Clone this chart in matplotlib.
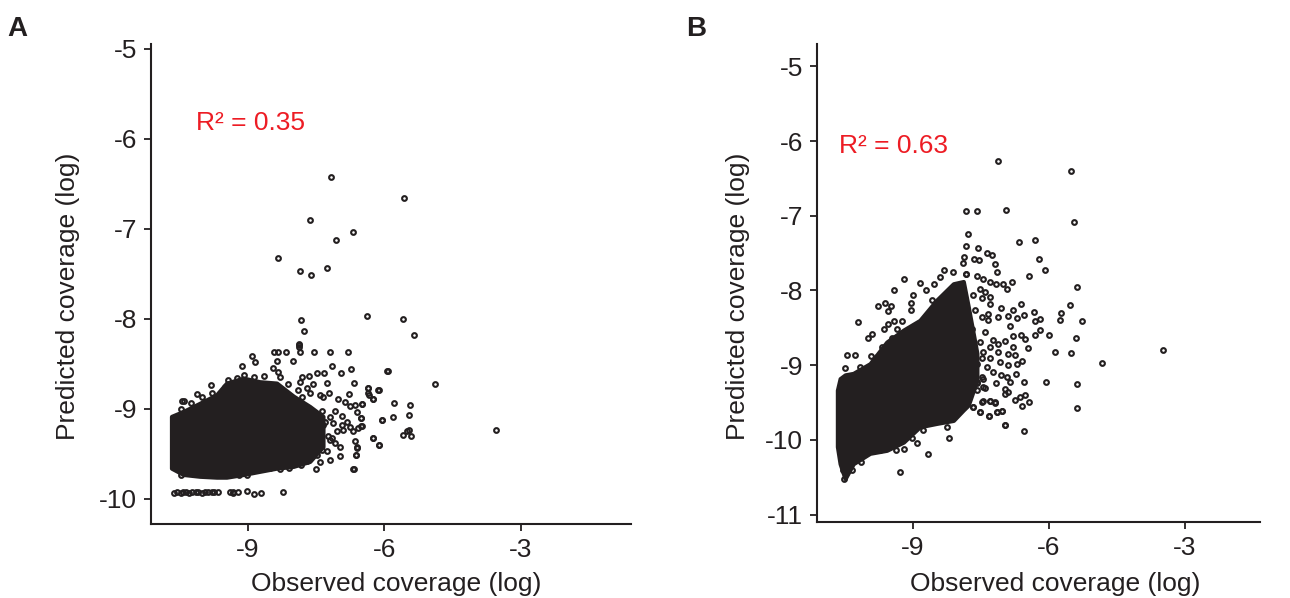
import matplotlib
matplotlib.use("Agg")
import matplotlib.pyplot as plt

plt.rcParams['font.family'] = ['Liberation Sans', 'DejaVu Sans']
plt.rcParams['axes.unicode_minus'] = False

INK = '#231f20'
RED = '#ed1c24'

# Dense core of each scatter: envelope (observed, upper, lower)
core_a_obs = [-10.68, -10.42, -10.06, -9.69, -9.47, -9.10, -8.74, -8.37, -8.00, -7.64, -7.35]
core_a_hi = [-9.085, -9.03, -8.94, -8.845, -8.715, -8.66, -8.70, -8.715, -8.86, -8.975, -9.085]
core_a_lo = [-9.66, -9.73, -9.75, -9.76, -9.76, -9.73, -9.695, -9.66, -9.64, -9.585, -9.42]

core_b_obs = [-10.67, -10.61, -10.50, -10.32, -9.95, -9.58, -9.21, -8.85, -8.48, -8.11, -7.89, -7.78, -7.59]
core_b_hi = [-9.335, -9.18, -9.13, -9.11, -8.98, -8.69, -8.53, -8.40, -8.13, -7.91, -7.88, -8.22, -8.84]
core_b_lo = [-10.09, -10.32, -10.52, -10.32, -10.18, -10.14, -10.03, -9.825, -9.78, -9.74, -9.60, -9.535, -9.20]

# Individually readable points, panel A (observed, predicted)
points_a = [
    (-7.18, -6.43), (-5.57, -6.66), (-7.64, -6.90), (-6.70, -7.04), (-7.07, -7.13), (-8.34, -7.33),
    (-7.26, -7.44), (-7.86, -7.47), (-7.62, -7.51), (-7.84, -8.02), (-6.38, -7.965), (-5.59, -8.00),
    (-5.34, -8.18), (-7.77, -8.14), (-7.88, -8.28), (-7.87, -8.31), (-5.92, -8.58), (-4.88, -8.73),
    (-3.55, -9.24), (-6.37, -8.765), (-6.12, -8.79), (-6.26, -8.89), (-6.36, -8.825), (-5.78, -8.94),
    (-5.44, -8.96), (-5.47, -9.07), (-5.81, -9.09), (-6.06, -9.13), (-5.45, -9.24), (-5.59, -9.295),
    (-5.42, -9.30), (-5.50, -9.25), (-6.25, -9.325), (-6.11, -9.40), (-6.69, -9.665), (-6.50, -8.945),
    (-6.63, -9.51), (-6.61, -9.42), (-6.52, -9.10), (-6.52, -9.195),
    (-7.87, -8.29), (-7.86, -8.375), (-8.43, -8.375), (-8.33, -8.375), (-8.17, -8.375), (-7.54, -8.375),
    (-7.19, -8.375), (-6.80, -8.375), (-8.90, -8.42), (-8.85, -8.485), (-8.36, -8.47), (-8.00, -8.475),
    (-9.14, -8.52), (-7.16, -8.52), (-8.44, -8.55), (-8.33, -8.59), (-8.30, -8.65), (-6.74, -8.56),
    (-6.96, -8.605), (-7.48, -8.60), (-7.32, -8.605), (-5.94, -8.585), (-7.65, -8.635), (-7.82, -8.65),
    (-8.65, -8.64), (-9.08, -8.63), (-8.86, -8.65), (-9.25, -8.66), (-9.43, -8.68), (-7.86, -8.705),
    (-7.57, -8.73), (-7.27, -8.71), (-6.67, -8.715), (-8.11, -8.72), (-9.82, -8.735), (-10.11, -8.835),
    (-10.02, -8.865), (-9.78, -8.825), (-9.50, -8.76), (-7.89, -8.795), (-7.70, -8.765), (-7.64, -8.825),
    (-6.35, -8.765), (-6.14, -8.795), (-6.34, -8.845), (-6.26, -8.89), (-7.82, -8.865), (-7.42, -8.845),
    (-7.22, -8.825), (-6.78, -8.835), (-7.35, -8.87), (-7.02, -8.89), (-6.87, -8.92), (-6.50, -8.945),
    (-6.65, -8.955), (-10.44, -8.91), (-10.40, -8.91), (-10.24, -8.94), (-10.47, -9.00), (-6.76, -8.975),
    (-7.38, -9.03), (-7.09, -9.02), (-6.61, -9.04), (-6.94, -9.08), (-7.20, -9.09), (-6.52, -9.10),
    (-6.05, -9.125), (-7.35, -9.18), (-6.76, -9.205), (-6.50, -9.195), (-6.90, -9.235), (-7.16, -9.325),
    (-6.25, -9.325), (-6.11, -9.40), (-6.65, -9.36), (-6.98, -9.42), (-6.61, -9.435), (-7.27, -9.47),
    (-6.98, -9.52), (-6.63, -9.51), (-7.20, -9.565), (-7.42, -9.595), (-7.71, -9.585), (-7.51, -9.665),
    (-7.84, -9.63), (-6.67, -9.665), (-8.09, -9.66), (-8.30, -9.67), (-8.52, -9.66), (-9.19, -9.74),
    (-9.03, -9.74), (-10.48, -9.74), (-7.12, -9.16), (-6.94, -9.18), (-6.83, -9.15), (-6.69, -9.25),
    (-6.58, -9.215), (-7.05, -9.25), (-7.20, -9.345), (-7.09, -9.38), (-7.49, -9.51), (-7.38, -9.455),
    (-7.30, -9.15), (-7.25, -9.30), (-7.40, -9.25), (-7.50, -9.40),
]

# Separate low band of panel A
band_a_obs = [-10.62, -10.55, -10.48, -10.42, -10.35, -10.29, -10.22, -10.15, -10.09, -10.02, -9.95, -9.88,
              -9.80, -9.74, -9.65, -9.40, -9.33, -9.32, -9.21, -9.03, -8.86, -8.71, -8.22]
band_a_pred = [-9.94, -9.93, -9.94, -9.93, -9.92, -9.94, -9.93, -9.92, -9.93, -9.94, -9.93, -9.92,
               -9.93, -9.92, -9.93, -9.93, -9.92, -9.94, -9.93, -9.91, -9.95, -9.94, -9.93]

# Individually readable points, panel B (observed, predicted)
points_b = [
    (-9.21, -7.84), (-9.43, -8.00), (-8.31, -7.73), (-8.12, -7.75), (-8.40, -7.82), (-7.84, -7.78),
    (-8.85, -7.90), (-8.54, -7.91), (-8.99, -8.06), (-8.71, -7.995), (-8.59, -8.13), (-9.77, -8.205),
    (-9.62, -8.17), (-9.49, -8.21), (-9.55, -8.27), (-9.05, -8.17), (-9.05, -8.26), (-10.22, -8.42),
    (-9.42, -8.41), (-9.25, -8.41), (-9.55, -8.45), (-9.64, -8.52), (-9.35, -8.51), (-9.91, -8.58),
    (-9.99, -8.63), (-9.23, -8.58), (-9.47, -8.63), (-9.69, -8.76), (-10.46, -8.87), (-10.28, -8.865),
    (-9.93, -8.88), (-9.80, -8.89), (-10.50, -9.04), (-10.16, -9.03), (-10.35, -10.405), (-10.52, -10.52),
    (-10.54, -10.405), (-10.15, -10.29), (-10.26, -10.27), (-9.74, -10.13), (-9.99, -10.15), (-9.38, -10.13),
    (-9.20, -10.12), (-8.92, -10.04), (-9.03, -9.97), (-9.29, -10.43), (-8.68, -10.195), (-8.20, -9.97),
    (-8.77, -9.87), (-8.24, -9.825), (-7.32, -9.68), (-7.15, -9.63), (-7.03, -9.615), (-6.98, -9.80),
    (-7.52, -9.63), (-7.68, -9.56), (-7.89, -9.55), (-7.19, -9.50), (-7.30, -9.48), (-7.45, -9.48),
    (-7.59, -9.335), (-7.45, -9.29), (-7.59, -9.22), (-7.45, -9.18),
    (-7.13, -6.27), (-5.51, -6.395), (-7.82, -6.94), (-7.59, -6.94), (-6.94, -6.925), (-5.44, -7.08),
    (-7.79, -7.24), (-6.31, -7.32), (-6.65, -7.345), (-7.84, -7.41), (-7.56, -7.425), (-6.21, -7.58),
    (-6.08, -7.73), (-6.45, -7.81), (-7.37, -7.505), (-7.25, -7.53), (-7.19, -7.64), (-7.15, -7.75),
    (-7.87, -7.55), (-7.89, -7.63), (-7.65, -7.585), (-7.54, -7.595), (-7.83, -7.78), (-7.59, -7.81),
    (-7.45, -7.85), (-7.30, -7.885), (-7.17, -7.92), (-7.01, -7.91), (-6.82, -7.89), (-6.92, -7.98),
    (-7.52, -7.975), (-7.41, -8.02), (-7.67, -8.06), (-7.48, -8.095), (-7.29, -8.085), (-7.29, -8.18),
    (-5.39, -7.95), (-5.53, -8.19), (-6.62, -8.18), (-6.79, -8.265), (-7.06, -8.24), (-6.33, -8.285),
    (-5.73, -8.305), (-5.75, -8.40), (-5.28, -8.41), (-6.20, -8.385), (-6.30, -8.41), (-6.56, -8.325),
    (-6.70, -8.375), (-6.90, -8.34), (-7.12, -8.35), (-7.34, -8.31), (-7.48, -8.35), (-7.63, -8.265),
    (-7.78, -8.31), (-7.34, -8.40), (-6.87, -8.48), (-7.41, -8.55), (-7.70, -8.51), (-6.20, -8.535),
    (-6.30, -8.60), (-6.00, -8.595), (-6.62, -8.595), (-6.80, -8.61), (-6.53, -8.65), (-5.41, -8.635),
    (-6.96, -8.675), (-7.23, -8.665), (-7.52, -8.69), (-6.47, -8.77), (-6.80, -8.755), (-7.12, -8.72),
    (-7.31, -8.755), (-5.86, -8.825), (-5.52, -8.835), (-4.82, -8.965), (-3.49, -8.795), (-7.45, -8.82),
    (-7.12, -8.83), (-6.90, -8.845), (-6.75, -8.86), (-6.60, -8.94), (-6.71, -8.98), (-6.90, -9.00),
    (-7.08, -8.955), (-7.29, -8.91), (-7.48, -8.90), (-7.59, -8.98), (-7.37, -9.02), (-7.23, -9.09),
    (-7.06, -9.135), (-6.73, -9.125), (-6.93, -9.155), (-7.48, -9.155), (-6.56, -9.22), (-6.86, -9.22),
    (-7.17, -9.24), (-6.06, -9.22), (-5.39, -9.25), (-7.41, -9.31), (-7.59, -9.245), (-6.97, -9.325),
    (-6.90, -9.365), (-6.98, -9.39), (-6.53, -9.40), (-6.64, -9.425), (-6.75, -9.47), (-6.45, -9.49),
    (-6.59, -9.55), (-5.37, -9.57), (-7.19, -9.49), (-7.30, -9.48), (-7.48, -9.49), (-7.68, -9.56),
    (-7.89, -9.55), (-7.52, -9.63), (-7.32, -9.68), (-7.14, -9.63), (-7.03, -9.62), (-6.98, -9.80),
    (-6.56, -9.88),
]

x_ticks = [-9, -6, -3]
y_ticks_a = [-10, -9, -8, -7, -6, -5]
y_ticks_b = [-11, -10, -9, -8, -7, -6, -5]
x_label = 'Observed coverage (log)'
y_label = 'Predicted coverage (log)'
r2_a = 'R\u00b2 = 0.35'
r2_b = 'R\u00b2 = 0.63'

W, H = 1290, 598
fig = plt.figure(figsize=(W / 100, H / 100), dpi=100, facecolor='white')


def make_axes(left, right, top, bottom, xlim, ylim, yticks):
    ax = fig.add_axes([left / W, 1 - bottom / H, (right - left) / W, (bottom - top) / H])
    ax.set_xlim(*xlim)
    ax.set_ylim(*ylim)
    ax.set_xticks(x_ticks, [str(t) for t in x_ticks])
    ax.set_yticks(yticks, [str(t) for t in yticks])
    ax.spines['top'].set_visible(False)
    ax.spines['right'].set_visible(False)
    for s in ('left', 'bottom'):
        ax.spines[s].set_linewidth(1.5)
        ax.spines[s].set_color(INK)
    ax.tick_params(axis='both', direction='out', length=5, width=1.3, color=INK,
                   labelsize=19, labelcolor=INK, pad=5)
    return ax


def draw(ax, core_x, core_hi, core_lo, pts):
    ax.fill_between(core_x, core_lo, core_hi, color=INK, lw=3, zorder=2)
    ax.plot([p[0] for p in pts], [p[1] for p in pts], ls='none', marker='o', ms=3.4,
            mfc='none', mec=INK, mew=1.5, zorder=3, clip_on=False)


ax_a = make_axes(151, 631, 44, 524, (-11.13, -0.58), (-10.28, -4.95), y_ticks_a)
draw(ax_a, core_a_obs, core_a_hi, core_a_lo, points_a + list(zip(band_a_obs, band_a_pred)))
ax_a.text(-10.14, -5.90, r2_a, color=RED, fontsize=19, va='baseline', ha='left')

ax_b = make_axes(817, 1260, 44, 522, (-11.12, -1.34), (-11.1, -4.7), y_ticks_b)
draw(ax_b, core_b_obs, core_b_hi, core_b_lo, points_b)
ax_b.text(-10.63, -6.16, r2_b, color=RED, fontsize=19, va='baseline', ha='left')

for cx, cy, txt, rot in [(396, 584, x_label, 0), (1055, 584, x_label, 0),
                         (68, 296, y_label, 90), (738, 296, y_label, 90)]:
    fig.text(cx / W, 1 - cy / H, txt, fontsize=19, color=INK, ha='center', va='center', rotation=rot)

fig.text(7 / W, 1 - 36 / H, 'A', fontsize=20, fontweight='bold', color=INK, ha='left', va='baseline')
fig.text(686 / W, 1 - 36 / H, 'B', fontsize=20, fontweight='bold', color=INK, ha='left', va='baseline')

fig.savefig('out.png', dpi=100)
